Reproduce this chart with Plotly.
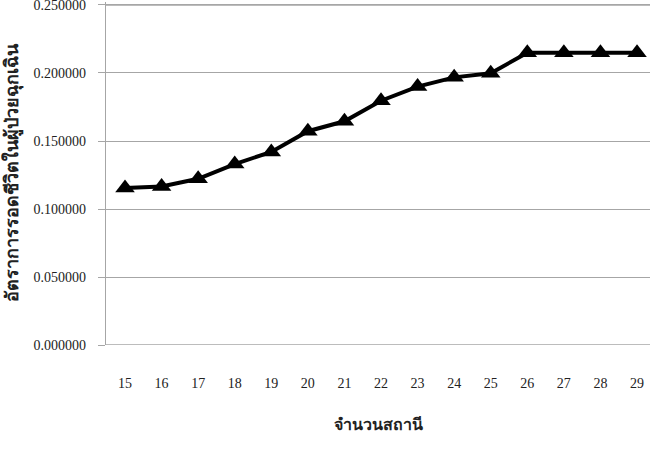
import plotly.graph_objects as go

stations = [15, 16, 17, 18, 19, 20, 21, 22, 23, 24, 25, 26, 27, 28, 29]
survival = [0.1154, 0.1165, 0.1222, 0.1330, 0.1420, 0.1572, 0.1645, 0.1796, 0.1900, 0.1968, 0.1998, 0.2149, 0.2149, 0.2149, 0.2149]
y_ticks = [0.0, 0.05, 0.10, 0.15, 0.20, 0.25]

fig = go.Figure()
fig.add_trace(go.Scatter(
    x=stations, y=survival, mode="lines+markers",
    line=dict(color="black", width=4),
    marker=dict(symbol="triangle-up", size=17, color="black"),
    showlegend=False, cliponaxis=False,
))

serif = "Liberation Serif, Times New Roman, serif"
fig.update_layout(
    width=650, height=450,
    margin=dict(l=106, r=0, t=2, b=105, autoexpand=False),
    paper_bgcolor="white", plot_bgcolor="white",
    font=dict(family=serif, size=14, color="#222"),
    xaxis=dict(
        range=[14.48, 29.355], tickmode="array", tickvals=stations,
        ticktext=[str(s) for s in stations], automargin=False,
        tickfont=dict(size=14, family=serif),
        showgrid=False, zeroline=False, showline=False,
        ticks="", ticklabelstandoff=28,
        title=dict(text="<b>จำนวนสถานี</b>", font=dict(size=16, family=serif), standoff=28),
    ),
    yaxis=dict(
        range=[0, 0.2522], tickmode="array", tickvals=y_ticks, tickformat=".6f",
        tickfont=dict(size=14, family=serif), ticklabeloverflow="allow",
        showgrid=True, gridcolor="#a6a6a6", gridwidth=1.3, automargin=False,
        zeroline=False, showline=True, linecolor="#a6a6a6", linewidth=1.3,
        ticks="outside", ticklen=7, tickcolor="#a6a6a6", tickwidth=1.3,
        ticklabelstandoff=9,
        title=dict(text="<b>อัตราการรอดชีวิตในผู้ป่วยฉุกเฉิน</b>", font=dict(size=18, family=serif), standoff=10),
    ),
)
for yv in (y_ticks[0], y_ticks[-1]):
    fig.add_shape(type="line", xref="paper", yref="y", x0=0, x1=1, y0=yv, y1=yv,
                  line=dict(color="#a6a6a6", width=1.3), layer="below")

fig.write_html("out.html", config={"displayModeBar": False},
               post_script="document.body.style.margin='0px';")
